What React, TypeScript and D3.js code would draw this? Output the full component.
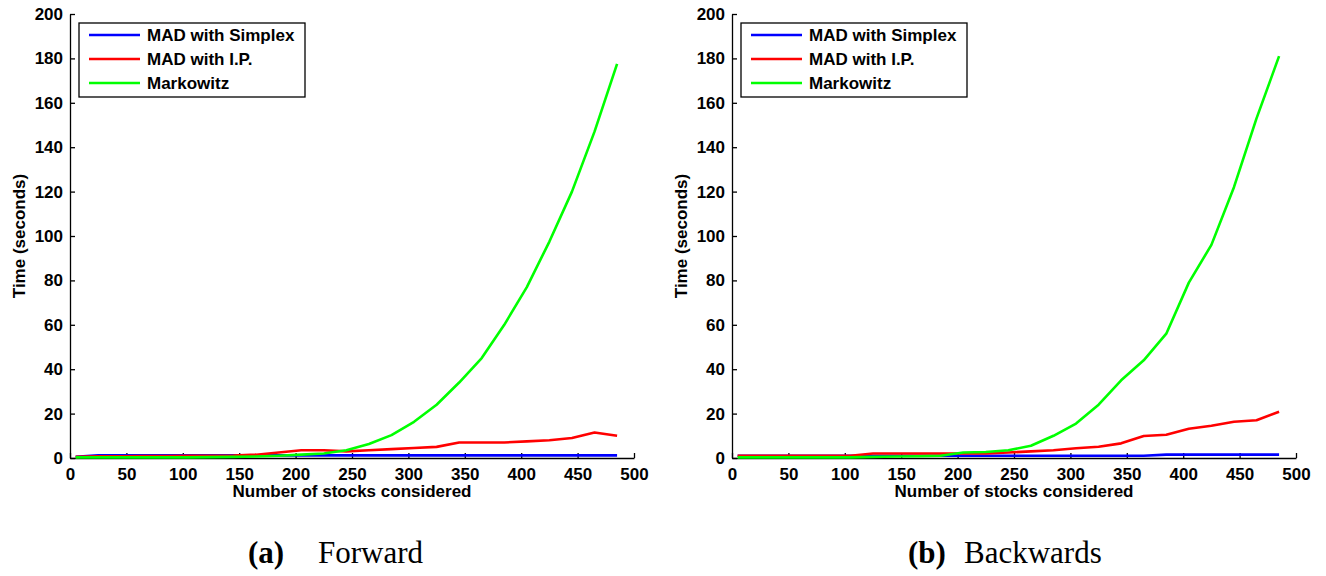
import React, { useEffect, useRef } from 'react';
import * as d3 from 'd3';

// number of stocks (x values shared by every series)
const stocks = [5, 25, 45, 65, 85, 105, 125, 145, 165, 185, 205, 225, 245, 265, 285, 305, 325, 345, 365, 385, 405, 425, 445, 465, 485];

// (a) Forward
const fwdSimplex = [0.5, 1.2, 1.2, 1.2, 1.2, 1.2, 1.2, 1.2, 1.2, 1.2, 1.2, 1.2, 1.2, 1.2, 1.2, 1.2, 1.2, 1.2, 1.2, 1.2, 1.2, 1.2, 1.2, 1.2, 1.2];
const fwdIP = [0.5, 0.8, 0.8, 0.9, 0.9, 1, 1, 1.1, 1.5, 2.5, 3.5, 3.5, 3, 3.5, 4, 4.5, 5, 7, 7, 7, 7.5, 8, 9, 11.5, 10];
const fwdMarkowitz = [0.3, 0.3, 0.3, 0.3, 0.3, 0.3, 0.4, 0.5, 0.7, 1, 1.5, 2, 3.5, 6.3, 10.3, 16.3, 24, 34, 45, 60, 77, 97.5, 120, 147, 177.5];

// (b) Backwards
const bwdSimplex = [1, 1, 1, 1, 1, 1, 1, 1, 1, 1, 1, 1, 1, 1, 1, 1, 1, 1, 1, 1.5, 1.5, 1.5, 1.5, 1.5, 1.5];
const bwdIP = [1, 1, 1, 1, 1, 1, 2, 2, 2, 2, 2, 2, 2.5, 3, 3.5, 4.4, 5.1, 6.6, 9.9, 10.5, 13.2, 14.5, 16.3, 17, 20.8];
const bwdMarkowitz = [0.3, 0.3, 0.3, 0.3, 0.3, 0.3, 0.5, 0.7, 0.8, 1, 2.5, 2.7, 3.5, 5.5, 10, 15.5, 24, 35, 44, 56, 79, 96, 122, 153, 181];

const seriesNames = ['MAD with Simplex', 'MAD with I.P.', 'Markowitz'];
const seriesColors = ['#0000ff', '#ff0000', '#00ff00'];
const xTicks = [0, 50, 100, 150, 200, 250, 300, 350, 400, 450, 500];
const yTicks = [0, 20, 40, 60, 80, 100, 120, 140, 160, 180, 200];

const panels = [
  { left: 70, label: '(a)', title: 'Forward', labelX: 248, titleX: 318, series: [fwdSimplex, fwdIP, fwdMarkowitz] },
  { left: 732, label: '(b)', title: 'Backwards', labelX: 908, titleX: 964, series: [bwdSimplex, bwdIP, bwdMarkowitz] },
];

const App = () => {
  const svgRef = useRef(null);

  useEffect(() => {
    const root = d3.select(svgRef.current);
    root.selectAll('*').remove();

    const plotW = 564;
    const top = 14;
    const bottom = 458;
    const font = '"Liberation Sans", Arial, sans-serif';

    panels.forEach((p) => {
      const g = root.append('g');
      const x = d3.scaleLinear().domain([0, 500]).range([p.left, p.left + plotW]);
      const y = d3.scaleLinear().domain([0, 200]).range([bottom, top]);

      // axes (left + bottom only, ticks inward)
      const xAxis = g.append('g')
        .attr('transform', `translate(0,${bottom})`)
        .call(d3.axisBottom(x).tickValues(xTicks).tickSizeInner(-5).tickSizeOuter(0).tickPadding(10));
      const yAxis = g.append('g')
        .attr('transform', `translate(${p.left},0)`)
        .call(d3.axisLeft(y).tickValues(yTicks).tickSizeInner(-5).tickSizeOuter(0).tickPadding(4));
      [xAxis, yAxis].forEach((a) => {
        a.selectAll('path').attr('stroke', '#000').attr('stroke-width', 1.3);
        a.selectAll('line').attr('stroke', '#000').attr('stroke-width', 1.3);
        a.selectAll('text')
          .attr('fill', '#000')
          .style('font-family', font)
          .style('font-weight', 'bold')
          .style('font-size', '17px');
      });
      xAxis.selectAll('text').attr('dy', '0.68em');
      yAxis.selectAll('text').attr('dx', '-3px');

      // axis titles
      g.append('text')
        .attr('x', p.left + plotW / 2)
        .attr('y', 497)
        .attr('text-anchor', 'middle')
        .style('font-family', font)
        .style('font-weight', 'bold')
        .style('font-size', '17px')
        .text('Number of stocks considered');
      g.append('text')
        .attr('transform', `translate(${p.left - 45},${(top + bottom) / 2}) rotate(-90)`)
        .attr('text-anchor', 'middle')
        .style('font-family', font)
        .style('font-weight', 'bold')
        .style('font-size', '17px')
        .text('Time (seconds)');

      // lines
      const line = d3.line()
        .x((d, i) => x(stocks[i]))
        .y((d) => y(d));
      p.series.forEach((s, i) => {
        g.append('path')
          .datum(s)
          .attr('fill', 'none')
          .attr('stroke', seriesColors[i])
          .attr('stroke-width', 2.6)
          .attr('stroke-linejoin', 'round')
          .attr('d', line);
      });

      // legend
      const lg = g.append('g').attr('transform', `translate(${p.left + 9},23)`);
      lg.append('rect')
        .attr('width', 226)
        .attr('height', 74)
        .attr('fill', '#fff')
        .attr('stroke', '#000')
        .attr('stroke-width', 1.3);
      seriesNames.forEach((name, i) => {
        const yy = 12 + i * 24;
        lg.append('line')
          .attr('x1', 10).attr('x2', 61)
          .attr('y1', yy).attr('y2', yy)
          .attr('stroke', seriesColors[i])
          .attr('stroke-width', 2.6);
        lg.append('text')
          .attr('x', 68)
          .attr('y', yy + 6)
          .style('font-family', font)
          .style('font-weight', 'bold')
          .style('font-size', '17px')
          .text(name);
      });

      // caption
      const serif = '"Liberation Serif", "Times New Roman", serif';
      g.append('text')
        .attr('x', p.labelX)
        .attr('y', 563)
        .style('font-family', serif)
        .style('font-weight', 'bold')
        .style('font-size', '31px')
        .text(p.label);
      g.append('text')
        .attr('x', p.titleX)
        .attr('y', 563)
        .style('font-family', serif)
        .style('font-size', '31px')
        .text(p.title);
    });
  }, []);

  return (
    <svg
      ref={svgRef}
      width={1326}
      height={576}
      style={{ position: 'absolute', left: 0, top: 0, background: '#fff' }}
    />
  );
};

export default App;
